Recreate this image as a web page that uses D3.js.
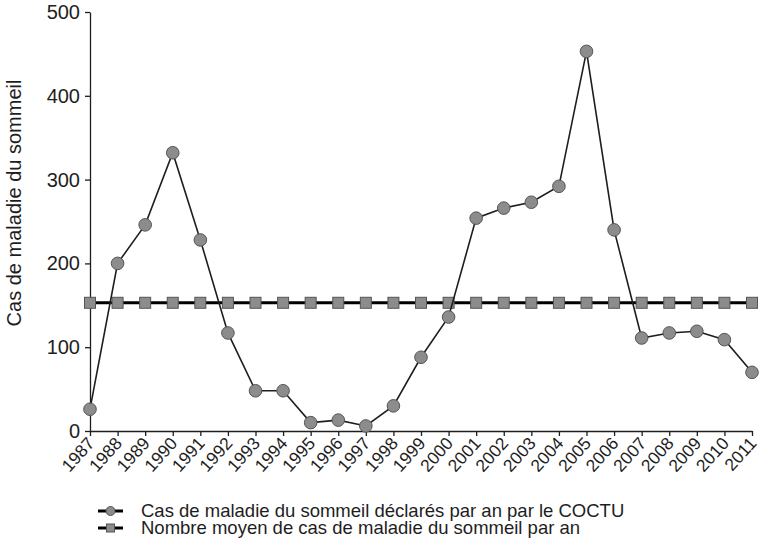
<!DOCTYPE html>
<html>
<head>
<meta charset="utf-8">
<script src="https://cdn.jsdelivr.net/npm/d3@7"></script>
<style>
  body { margin: 0; background: #fff; }
  svg { font-family: "Liberation Sans", Arial, Helvetica, sans-serif; }
</style>
</head>
<body>
<svg id="chart" width="760" height="540"></svg>
<script>
const years = [
  "1987", "1988", "1989", "1990", "1991", "1992", "1993", "1994", "1995",
  "1996", "1997", "1998", "1999", "2000", "2001", "2002", "2003", "2004",
  "2005", "2006", "2007", "2008", "2009", "2010", "2011",
];
const reportedCases = [
  26, 200, 246, 332, 228, 117, 48, 48, 10, 13, 6, 30, 88, 136, 254, 266, 273,
  292, 453, 240, 111, 117, 119, 109, 70,
];
const meanCases = [
  153, 153, 153, 153, 153, 153, 153, 153, 153, 153, 153, 153, 153, 153, 153,
  153, 153, 153, 153, 153, 153, 153, 153, 153, 153,
];
const yTicks = [0, 100, 200, 300, 400, 500];
const legendLabels = [
  "Cas de maladie du sommeil déclarés par an par le COCTU",
  "Nombre moyen de cas de maladie du sommeil par an",
];
const yLabel = "Cas de maladie du sommeil";

const svg = d3.select("#chart");
const x = d3.scalePoint().domain(years).range([90, 752]);
const y = d3.scaleLinear().domain([0, 500]).range([431, 12]);

const markFill = "#8c8c8c";
const markStroke = "#555";
const ink = "#1e1e1e";

// axes
svg.append("g")
  .attr("transform", "translate(90,0)")
  .call(d3.axisLeft(y).tickValues(yTicks).tickSize(5).tickSizeOuter(0).tickPadding(5))
  .call((g) => g.select(".domain").attr("stroke", ink).attr("stroke-width", 1.3))
  .call((g) => g.selectAll(".tick line").attr("stroke", ink).attr("stroke-width", 1.3))
  .call((g) => g.selectAll(".tick text").attr("font-size", 20).attr("fill", ink));

svg.append("g")
  .attr("transform", "translate(0,431)")
  .call(d3.axisBottom(x).tickSize(5).tickSizeOuter(0))
  .call((g) => g.select(".domain").attr("stroke", ink).attr("stroke-width", 1.3))
  .call((g) => g.selectAll(".tick line").attr("stroke", ink).attr("stroke-width", 1.3))
  .call((g) => g.selectAll(".tick text")
    .attr("font-size", 17.5)
    .attr("fill", ink)
    .attr("text-anchor", "end")
    .attr("dy", null)
    .attr("y", 0)
    .attr("transform", "translate(5,13) rotate(-48)"));

svg.append("text")
  .attr("transform", "translate(21,203) rotate(-90)")
  .attr("text-anchor", "middle")
  .attr("font-size", 20)
  .attr("fill", ink)
  .text(yLabel);

// mean line
const line = d3.line().x((d, i) => x(years[i])).y((d) => y(d));
svg.append("path")
  .datum(meanCases)
  .attr("fill", "none")
  .attr("stroke", "#000")
  .attr("stroke-width", 3)
  .attr("d", line);

svg.append("g")
  .selectAll("rect")
  .data(meanCases)
  .join("rect")
  .attr("x", (d, i) => x(years[i]) - 5.5)
  .attr("y", (d) => y(d) - 5.5)
  .attr("width", 11)
  .attr("height", 11)
  .attr("fill", markFill)
  .attr("stroke", markStroke)
  .attr("stroke-width", 1);

// reported cases
svg.append("path")
  .datum(reportedCases)
  .attr("fill", "none")
  .attr("stroke", ink)
  .attr("stroke-width", 1.6)
  .attr("d", line);

svg.append("g")
  .selectAll("circle")
  .data(reportedCases)
  .join("circle")
  .attr("cx", (d, i) => x(years[i]))
  .attr("cy", (d) => y(d))
  .attr("r", 6.3)
  .attr("fill", markFill)
  .attr("stroke", markStroke)
  .attr("stroke-width", 1);

// legend
const legend = svg.append("g").attr("transform", "translate(98,511)");
legendLabels.forEach((label, i) => {
  const row = legend.append("g").attr("transform", `translate(0,${i * 17})`);
  row.append("line")
    .attr("x1", 0).attr("x2", 25)
    .attr("stroke", "#000")
    .attr("stroke-width", 3);
  if (i === 0) {
    row.append("circle").attr("cx", 12.5).attr("r", 4.5)
      .attr("fill", markFill).attr("stroke", markStroke);
  } else {
    row.append("rect").attr("x", 8.5).attr("y", -4).attr("width", 8).attr("height", 8)
      .attr("fill", markFill).attr("stroke", markStroke);
  }
  row.append("text")
    .attr("x", 43)
    .attr("dy", "0.35em")
    .attr("font-size", 18.5)
    .attr("fill", ink)
    .text(label);
});
</script>
</body>
</html>
